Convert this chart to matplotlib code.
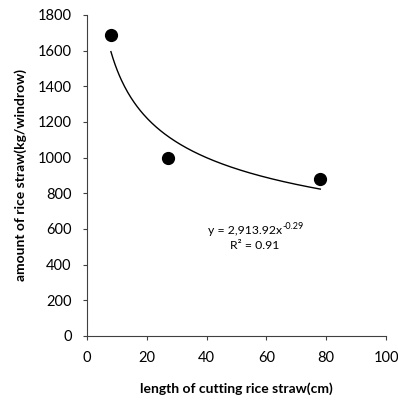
import numpy as np
import matplotlib.pyplot as plt

plt.rcParams['font.family'] = ['Lato', 'DejaVu Sans']

# data points
length_cm = [8, 27, 78]
amount_kg = [1690, 1000, 880]

# power trendline coefficients as printed on chart
coef_a = 2913.92
coef_b = -0.29
r_squared = 0.91

x_ticks = [0, 20, 40, 60, 80, 100]
y_ticks = [0, 200, 400, 600, 800, 1000, 1200, 1400, 1600, 1800]

fig = plt.figure(figsize=(3.98, 4.03), dpi=100)
ax = fig.add_axes([0.2186, 0.1663, 0.7514, 0.7965])

xs = np.linspace(min(length_cm), max(length_cm), 200)
ax.plot(xs, coef_a * xs ** coef_b, color='black', linewidth=1)
ax.plot(length_cm, amount_kg, 'o', color='black', markersize=8.5)

ax.set_xlim(0, 100)
ax.set_ylim(0, 1800)
ax.set_xticks(x_ticks)
ax.set_yticks(y_ticks)
ax.tick_params(labelsize=10.5, length=3, width=0.8, color='#404040', pad=8)
for s in ['top', 'right']:
    ax.spines[s].set_visible(False)
for s in ['left', 'bottom']:
    ax.spines[s].set_color('#404040')
    ax.spines[s].set_linewidth(0.8)

ax.set_xlabel('length of cutting rice straw(cm)', fontsize=10, fontweight='bold', labelpad=12)
ax.set_ylabel('amount of rice straw(kg/windrow)', fontsize=10, fontweight='bold', labelpad=8)

# equation, superscript drawn separately so the exponent keeps a plain hyphen
ax.text(65.3, 594, 'y = {:,.2f}x'.format(coef_a), fontsize=8.8, ha='right', va='center')
ax.text(65.4, 614, '{:.2f}'.format(coef_b), fontsize=6.5, ha='left', va='center')
ax.text(56, 510, 'R\u00b2 = {:.2f}'.format(r_squared), fontsize=8.8, ha='center', va='center')

fig.savefig('out.png', dpi=100)
